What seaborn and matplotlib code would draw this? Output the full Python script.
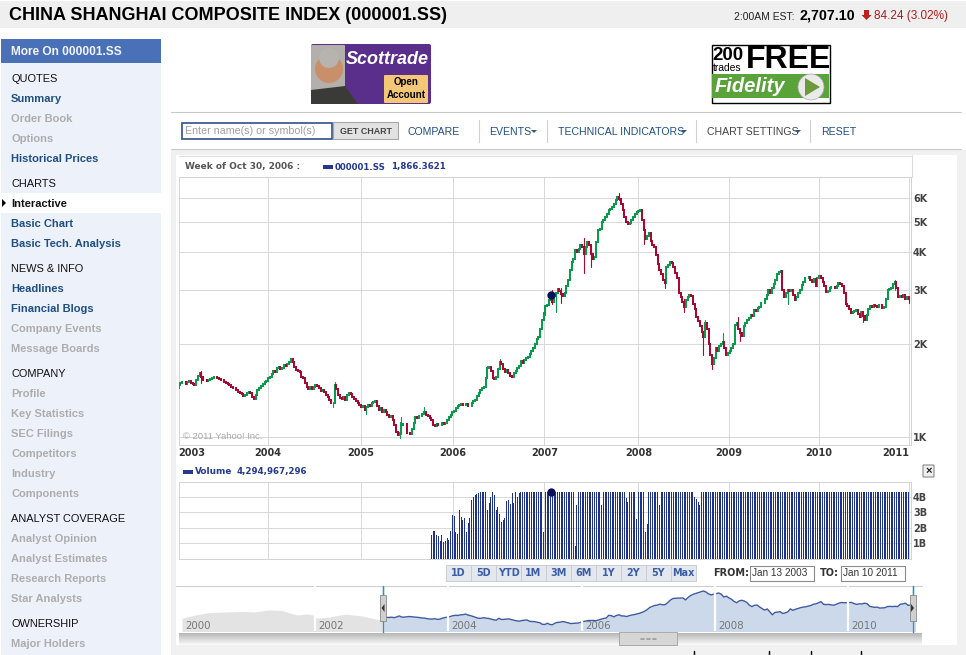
import numpy as np
import pandas as pd
import matplotlib
matplotlib.use("Agg")
import matplotlib.pyplot as plt
from matplotlib.patches import Rectangle, Circle, Polygon, FancyBboxPatch
from matplotlib.ticker import FixedLocator, NullLocator
import seaborn as sns

# ---------- data ----------
close = [
 1474,1500,1505,1510,1490,1510,1515,1500,1480,1474,
 1530,1575,1618,1560,1525,1535,1520,1530,1545,1555,
 1570,1560,1550,1540,1525,1530,1510,1500,1485,1470,
 1455,1445,1440,1420,1400,1385,1375,1360,1370,1385,
 1395,1390,1350,1325,1370,1420,1440,1460,1490,1510,
 1520,1555,1570,1605,1640,1620,1670,1690,1660,1680,
 1715,1700,1730,1755,1785,1750,1690,1645,1640,1620,
 1565,1550,1500,1450,1430,1450,1430,1450,1470,1460,
 1440,1410,1420,1395,1370,1345,1320,1285,1290,1470,
 1430,1370,1340,1325,1350,1320,1370,1385,1380,1350,
 1330,1310,1285,1270,1250,1260,1225,1250,1270,1260,
 1290,1300,1310,1255,1220,1240,1205,1220,1200,1175,
 1160,1165,1130,1090,1040,1010,1030,1090,1100,1100,
 1030,1025,1020,1060,1110,1160,1150,1170,1165,1190,
 1205,1180,1170,1150,1130,1095,1085,1100,1090,1095,
 1105,1100,1110,1130,1160,1180,1205,1215,1240,1260,
 1270,1280,1270,1265,1275,1260,1255,1290,1310,1320,
 1360,1390,1420,1440,1450,1550,1675,1690,1640,1555,
 1545,1560,1660,1755,1720,1660,1620,1650,1610,1580,
 1570,1610,1640,1680,1700,1760,1740,1775,1800,1820,
 1860,1900,1950,2010,2080,2120,2250,2400,2530,2660,
 2680,2780,2820,2750,2870,2950,3020,2990,2920,2880,
 2930,3100,3250,3490,3700,3800,4050,4000,4100,4200,
 4160,3950,4150,4300,4200,3950,3780,3860,4300,4700,
 4750,5000,5080,5200,5300,5475,5500,5600,5750,5900,
 6050,5950,5750,5480,5200,5000,4920,4950,5100,5200,
 5300,5400,5450,5480,5100,4710,4400,4500,4600,4350,
 4200,4160,3900,3650,3490,3400,3250,3160,3580,3620,
 3700,3680,3560,3420,3300,2950,2850,2750,2650,2780,
 2850,2900,2880,2700,2600,2460,2380,2300,2200,2110,
 2340,2250,2000,1850,1720,1800,1950,1900,1980,2000,
 2030,1950,1850,1880,1900,1950,2000,2310,2350,2250,
 2180,2130,2300,2350,2400,2430,2500,2480,2580,2560,
 2620,2650,2720,2720,2800,2900,3000,2950,3060,3150,
 3250,3400,3450,3470,3000,2850,2950,3000,2980,3000,
 2900,2780,2850,2950,3000,3120,3180,3280,3300,3320,
 3250,3200,3260,3100,3300,3330,3300,3200,3100,2960,
 2980,3040,3070,3080,3050,3100,3170,3140,3100,2950,
 2700,2660,2610,2530,2550,2560,2580,2510,2450,2540,
 2480,2400,2500,2600,2660,2640,2680,2670,2650,2680,
 2690,2620,2650,2800,3000,3020,3060,3150,3180,3050,
 2860,2880,2850,2900,2820,2860,2800,
]
first_open = 1440

wick_weeks = [13,88,89,107,126,127,140,176,183,209,213,215,218,231,235,251,265,277,288,299,300,304,310,319,320,347,390,408,416]
wick_high  = [1640,1300,1510,1260,1120,1160,1250,1700,1790,2670,3000,2960,3060,4450,3990,6200,5110,3250,2800,2200,2400,1860,2170,2450,2200,3010,2500,3250,2860]
wick_low   = [1500,1250,1400,1190,990,1020,1190,1560,1700,2500,2700,2556,2720,3420,3560,5900,4250,3050,2550,1850,2200,1660,1980,2300,2050,2700,2370,3000,2720]

CAP = 4.29
volume_first_week = 144
volume = (
 [1.54,1.79,1.79,1.54,1.47,1.15,1.54,1.11,1.15,1.32,1.22,1.79,2.82,2.75,1.75,1.60,3.14,2.71,2.50,2.60,1.75,2.28,2.60,3.78,3.99,4.10,4.15,4.20,CAP,CAP,CAP,CAP,3.14,3.57,3.99,CAP,4.10,3.14,3.35,2.90,2.40,2.50,2.60,3.74,3.80,3.50,4.20,3.60,CAP,4.00,4.20,CAP]
 + [CAP]*12 + [1.75] + [CAP]*17 + [0.83,3.46] + [CAP]*13 + [3.46] + [CAP]*13 + [3.88,3.67] + [CAP]*4 + [2.54] + [CAP]*4 + [1.75,2.24] + [CAP]*6 + [3.46] + [CAP]*19 + [3.99,3.82,3.67,3.46]
)
volume = (volume + [CAP]*273)[:273]

year_labels = ["2003","2004","2005","2006","2007","2008","2009","2010","2011"]
year_weeks  = [0,51,104,156.5,208.5,262,313.5,365,416.4]
price_ticks = [1000,2000,3000,4000,5000,6000]
price_labels = ["1K","2K","3K","4K","5K","6K"]
vol_ticks = [1,2,3,4]
vol_labels = ["1B","2B","3B","4B"]

pre_years  = [2000.0,2000.2,2000.4,2000.65,2000.9,2001.1,2001.3,2001.5,2001.63,2001.74,2001.87,2001.97,2002.02,2002.2,2002.45,2002.7,2002.97,2003.03]
pre_values = [1436,1700,1930,2000,2050,2000,2225,2160,1867,1700,1800,1700,1436,1520,1780,1620,1310,1400]
mini_labels = ["2000","2002","2004","2006","2008","2010"]
mini_label_years = [2000,2002,2004,2006,2008,2010]

sidebar_rows = [
 ("QUOTES",78,"h"),("Summary",98,"l"),("Order Book",118,"g"),("Options",138,"g"),("Historical Prices",158,"l"),
 ("CHARTS",183,"h"),("Interactive",203,"s"),("Basic Chart",223,"l"),("Basic Tech. Analysis",243,"l"),
 ("NEWS & INFO",268,"h"),("Headlines",288,"l"),("Financial Blogs",308,"l"),("Company Events",328,"g"),("Message Boards",348,"g"),
 ("COMPANY",373,"h"),("Profile",393,"g"),("Key Statistics",413,"g"),("SEC Filings",433,"g"),("Competitors",453,"g"),("Industry",473,"g"),("Components",493,"g"),
 ("ANALYST COVERAGE",518,"h"),("Analyst Opinion",538,"g"),("Analyst Estimates",558,"g"),("Research Reports",578,"g"),("Star Analysts",598,"g"),
 ("OWNERSHIP",623,"h"),("Major Holders",643,"g"),
]
range_buttons = ["1D","5D","YTD","1M","3M","6M","1Y","2Y","5Y","Max"]
toolbar_items = [("COMPARE",408),("EVENTS",489),("TECHNICAL INDICATORS",558),("CHART SETTINGS",707),("RESET",821)]

# ---------- style ----------
sns.set_theme(style="white")
plt.rcParams["font.family"] = ["Liberation Sans", "DejaVu Sans"]
W, H = 966, 655
GREEN, RED, NAVY = "#0a9a4c", "#a60a32", "#24398f"
GRID = "#d9d9d9"
LINK = "#1f4f82"

fig = plt.figure(figsize=(W/100, H/100), dpi=100, facecolor="white")

def px_axes(x0, y0, x1, y1, **kw):
    return fig.add_axes([x0/W, 1-y1/H, (x1-x0)/W, (y1-y0)/H], **kw)

ui = px_axes(0, 0, W, H)
ui.set_xlim(0, W); ui.set_ylim(H, 0); ui.axis("off")

def rect(x0, y0, x1, y1, fc, ec="none", lw=0.8, z=1):
    ui.add_patch(Rectangle((x0, y0), x1-x0, y1-y0, fc=fc, ec=ec, lw=lw, zorder=z))

def txt(x, y, s, size=8, color="black", weight="normal", ha="left", style="normal", family=None, z=5):
    kw = {"family": family} if family else {}
    ui.text(x, y, s, fontsize=size, color=color, fontweight=weight, ha=ha, va="center", fontstyle=style, zorder=z, **kw)

# header
rect(0, 1, W, 28, "#efefef")
txt(9, 15.5, "CHINA SHANGHAI COMPOSITE INDEX (000001.SS)", size=13, weight="bold")
txt(734, 16.5, "2:00AM EST:", size=7.5, color="#222222")
txt(799, 15.5, "2,707.10", size=10.3, weight="bold")
ui.add_patch(Polygon([[864,10],[869,10],[869,15],[871.5,15],[866.5,20],[861.5,15],[864,15]], fc="#c0201c", ec="none", zorder=5))
txt(874, 16, "84.24 (3.02%)", size=8.5, color="#b01c1c")

# sidebar
rect(1, 63, 161, H, "#ecf1fa")
rect(1, 39, 161, 63, "#4a71b8")
txt(11, 52, "More On 000001.SS", size=8.6, color="#f2f5fb", weight="bold")
rect(1, 193, 161, 213, "white")
ui.add_patch(Polygon([[2,199],[2,207],[6,203]], fc="black", ec="none", zorder=5))
for s, y, kind in sidebar_rows:
    y = y + 0.8
    if kind == "h":
        txt(11, y, s, size=7.9, color="#111111", weight="medium")
    elif kind == "l":
        txt(11, y, s, size=8.0, color=LINK, weight="bold")
    elif kind == "s":
        txt(11, y, s, size=8.0, color="#111111", weight="bold")
    else:
        txt(11, y, s, size=8.0, color="#adadad", weight="bold")

# adverts
ui.add_patch(FancyBboxPatch((313, 46), 116, 56, boxstyle="round,pad=2", fc="#5a2f8c", ec="none", zorder=2))
ui.add_patch(FancyBboxPatch((312, 46), 32, 56, boxstyle="round,pad=1", fc="#b3b0ac", ec="none", zorder=2))
ui.add_patch(Polygon([[311,104],[311,90],[345,86],[358,104]], fc="#3a3a38", ec="none", zorder=3))
ui.add_patch(Circle((329, 69), 14, fc="#c98f6a", ec="none", zorder=3))
ui.add_patch(Circle((329, 58), 10, fc="#b7b3ae", ec="none", zorder=3))
txt(387, 59, "Scottrade", size=13, color="white", weight="bold", style="italic", ha="center", z=6)
ui.add_patch(FancyBboxPatch((385, 76), 42, 26, boxstyle="round,pad=1", fc="#f4c777", ec="none", zorder=3))
txt(406, 82, "Open", size=7, weight="bold", ha="center", z=6)
txt(406, 94.5, "Account", size=7, weight="bold", ha="center", z=6)

rect(711.5, 44.5, 829.5, 102.5, "white", ec="black", lw=1)
rect(712, 74, 829, 98, "#5aa23a", z=2)
txt(712.5, 55, "200", size=13.5, weight="bold", z=6)
txt(713, 68, "trades", size=7.4, z=6)
txt(746, 60, "FREE", size=23, weight="bold", z=6)
txt(715, 87, "Fidelity", size=14.5, color="white", weight="bold", style="italic", z=6)
ui.add_patch(Circle((811, 87), 13, fc="#eaeaea", ec="#aaaaaa", lw=0.5, zorder=3))
ui.add_patch(Polygon([[805,78],[805,96],[820,87]], fc="#6a9a3a", ec="none", zorder=4))

# toolbar
ui.plot([171, 961], [112, 112], color="#c9c9c9", lw=0.8, zorder=2)
ui.plot([171, 961], [149, 149], color="#c9c9c9", lw=0.8, zorder=2)
rect(181.5, 122.5, 332, 138.5, "white", ec="#3f5f90", lw=1.3, z=2)
txt(185, 130.5, "Enter name(s) or symbol(s)", size=7.7, color="#a0a0a0")
rect(333, 122, 398, 139, "#e2e2e2", ec="#a8a8a8", lw=0.8, z=2)
txt(365.5, 131.5, "GET CHART", size=6.4, color="#444444", weight="bold", ha="center")
for s, x in toolbar_items:
    txt(x, 132, s, size=7.6, color="#444444" if s == "CHART SETTINGS" else LINK, weight="medium")
for x in [479, 547, 696, 810]:
    ui.plot([x, x], [120, 142], color="#cfcfcf", lw=0.8, zorder=2)
for x in [534, 684, 798]:
    ui.add_patch(Polygon([[x-3,130],[x+3,130],[x,133]], fc="#33557f", ec="none", zorder=5))

# chart container
rect(171, 150, W, 155, "#f1f1f1")
rect(171, 155, 176, 655, "#f1f1f1")
rect(957, 150, W, 655, "#f1f1f1")
rect(176, 645, W, H, "#f1f1f1")
ui.plot([179, 911.5], [155.5, 155.5], color="#dddddd", lw=0.8, zorder=2)
ui.plot([911.5, 911.5], [155, 177], color="#dddddd", lw=0.8, zorder=2)
txt(185, 167, "Week of Oct 30, 2006 :", size=6.45, color="#555555", weight="bold", family="DejaVu Sans")
rect(323, 165, 333, 169, NAVY)
txt(335, 167, "000001.SS", size=6.2, color=NAVY, weight="bold", family="DejaVu Sans")
txt(391, 167, "1,866.3621", size=6.2, color=NAVY, weight="bold", family="DejaVu Sans")
rect(183, 470, 193, 474, NAVY)
txt(195, 471.5, "Volume", size=6.4, color=NAVY, weight="bold", family="DejaVu Sans")
txt(237, 471.5, "4,294,967,296", size=6.2, color=NAVY, weight="bold", family="DejaVu Sans")
ui.add_patch(FancyBboxPatch((923.5, 465.5), 10, 11, boxstyle="round,pad=0.5", fc="#eeeeee", ec="#8a8a8a", lw=0.8, zorder=2))
txt(928.5, 471, "×", size=8, color="#222222", weight="bold", ha="center")

# range buttons
for i, s in enumerate(range_buttons):
    x0 = 446 + i*25
    rect(x0, 565, x0+25, 581, "#e4e8ee", ec="#c9ced6", lw=0.7, z=2)
    txt(x0+12.5, 573, s, size=6.9, color="#3a5da8", weight="bold", ha="center", family="DejaVu Sans")
txt(713, 573, "FROM:", size=7.0, color="#333333", weight="bold", family="DejaVu Sans")
rect(749.5, 565.5, 813.5, 580.5, "white", ec="#8a8a8a", lw=0.8, z=2)
txt(752, 573.5, "Jan 13 2003", size=7.2, color="#333333")
txt(820, 573, "TO:", size=7.0, color="#333333", weight="bold", family="DejaVu Sans")
rect(840.5, 565.5, 904.5, 580.5, "white", ec="#8a8a8a", lw=0.8, z=2)
txt(843, 573.5, "Jan 10 2011", size=7.2, color="#333333")

# price panel
weeks = np.arange(len(close))
opens = [first_open] + close[:-1]
body = pd.DataFrame({
    "week": np.repeat(weeks, 2),
    "price": np.column_stack([opens, close]).ravel(),
    "dir": np.repeat(["up" if c >= o else "down" for o, c in zip(opens, close)], 2),
})
wick_dir = ["up" if close[w] >= opens[w] else "down" for w in wick_weeks]
wick = pd.DataFrame({
    "week": np.repeat(wick_weeks, 2),
    "price": np.column_stack([wick_low, wick_high]).ravel(),
    "dir": np.repeat(wick_dir, 2),
})
palette = {"up": GREEN, "down": RED}

ax = px_axes(178.5, 177, 911.5, 445, facecolor="white")
ax.set_yscale("log")
sns.lineplot(data=wick, x="week", y="price", hue="dir", units="week", estimator=None, sort=False,
             palette=palette, lw=0.8, legend=False, ax=ax, zorder=3)
sns.lineplot(data=body, x="week", y="price", hue="dir", units="week", estimator=None, sort=False,
             palette=palette, lw=1.45, legend=False, ax=ax, zorder=4, solid_capstyle="projecting")
ax.set_xlim(0, 417.6)
ax.set_ylim(940, 7015)
ax.yaxis.set_major_locator(FixedLocator(price_ticks))
ax.yaxis.set_minor_locator(NullLocator())
ax.set_yticklabels(price_labels)
ax.yaxis.tick_right()
ax.set_xticks(year_weeks)
ax.set_xticklabels(year_labels)
ax.set_xlabel(""); ax.set_ylabel("")
ax.grid(True, color=GRID, lw=0.72)
ax.set_axisbelow(True)
ax.tick_params(axis="y", length=0, labelsize=7, labelcolor="#444444", pad=1)
ax.tick_params(axis="x", length=0, labelsize=7, labelcolor="#333333", pad=2.5)
for lab in ax.get_yticklabels() + ax.get_xticklabels():
    lab.set_fontweight("bold"); lab.set_family("DejaVu Sans")
ax.get_xticklabels()[0].set_ha("left")
ax.get_xticklabels()[-1].set_ha("right")
for s in ax.spines.values():
    s.set_color("#d4d4d4"); s.set_linewidth(0.72)
ax.plot([212], [2900], "o", color="#0a1158", ms=6, zorder=6, mec="none")
ax.text(0.006, 0.03, "© 2011 Yahoo! Inc.", transform=ax.transAxes, fontsize=6.8, color="#aaaaaa", va="center", zorder=7)

# volume panel
vol_df = pd.DataFrame({"week": np.arange(volume_first_week, volume_first_week+len(volume)), "volume": volume})
vx = px_axes(178.5, 481.7, 911.5, 559, facecolor="white")
sns.barplot(data=vol_df, x="week", y="volume", native_scale=True, color="#1d3288", saturation=1, width=0.57, ax=vx, zorder=3, linewidth=0)
vx.set_xlim(0, 417.6)
vx.set_ylim(0, 4.95)
vx.yaxis.tick_right()
vx.set_yticks(vol_ticks)
vx.set_yticklabels(vol_labels)
vx.set_xticks(year_weeks)
vx.set_xticklabels([])
vx.set_xlabel(""); vx.set_ylabel("")
vx.grid(True, color=GRID, lw=0.72)
vx.set_axisbelow(True)
vx.tick_params(length=0, labelsize=7, labelcolor="#444444", pad=1)
for lab in vx.get_yticklabels():
    lab.set_fontweight("bold"); lab.set_family("DejaVu Sans")
for s in vx.spines.values():
    s.set_color("#d4d4d4"); s.set_linewidth(0.72)
vx.plot([212], [CAP], "o", color="#0a1158", ms=6, zorder=6, mec="none", clip_on=False)

# overview panel
ui.plot([176, 922], [586, 586], color="#cfcfcf", lw=0.8, zorder=2)
mini = px_axes(182, 586, 914.6, 631, facecolor="none")
mini.axis("off")
mini.set_yscale("log")
mini_years = 2003.03 + weeks/52.1
mini.fill_between(pre_years, pre_values, 700, color="#e3e3e3", lw=0, zorder=1)
mini.fill_between(mini_years[::2], close[::2], 700, color="#ccd9ea", lw=0, zorder=1)
sns.lineplot(x=mini_years[::2], y=close[::2], color="#3f5b9e", lw=1, ax=mini, zorder=2)
mini.set_xlim(2000, 2011)
mini.set_ylim(730, 7880)
mini.axis("off")
for y, s in zip(mini_label_years, mini_labels):
    if y > 2000:
        mini.axvline(y, color="white", lw=1.6, zorder=3)
    mini.text(y + 0.05, 0.12, s, transform=mini.get_xaxis_transform(), fontsize=7.4, color="#777777", va="center", zorder=4, family="DejaVu Sans", fontweight="medium")

# sliders, scrollbar, ticks
scroll = np.linspace(0.72, 0.97, 12)[:, None]
ui.imshow(scroll, extent=(179, 922, 645, 633), cmap="gray", vmin=0, vmax=1, aspect="auto", zorder=2)
ui.set_xlim(0, W); ui.set_ylim(H, 0)
for x in [383, 912.5]:
    ui.plot([x, x], [586, 632], color="#2f8fd0", lw=1, zorder=8)
ax_top = fig.add_axes([0, 0, 1, 1], facecolor="none")
ax_top.set_xlim(0, W); ax_top.set_ylim(H, 0); ax_top.axis("off")
for x in [383, 912.5]:
    ax_top.plot([x, x], [586, 632], color="#2f8fd0", lw=0.9, zorder=8)
for x in [380, 909.5]:
    ax_top.add_patch(Rectangle((x, 595), 6, 26, fc="#cfcfcf", ec="#8a8a8a", lw=0.6, zorder=9))
ax_top.add_patch(Polygon([[384.5,604],[384.5,612],[381.5,608]], fc="#333333", ec="none", zorder=10))
ax_top.add_patch(Polygon([[911,604],[911,612],[914,608]], fc="#333333", ec="none", zorder=10))
ax_top.add_patch(Rectangle((619, 632), 58, 13, fc="#d6d6d6", ec="#a0a0a0", lw=0.6, zorder=9))
for x in [642, 648, 654]:
    ax_top.plot([x-1.5, x+1.5], [639, 639], color="#9a9a9a", lw=1.2, zorder=10)
for x in [693.5, 768.5, 810.5, 860.5]:
    ax_top.plot([x, x], [651, 655], color="black", lw=1, zorder=10)

fig.savefig("out.png", dpi=100, facecolor="white")
